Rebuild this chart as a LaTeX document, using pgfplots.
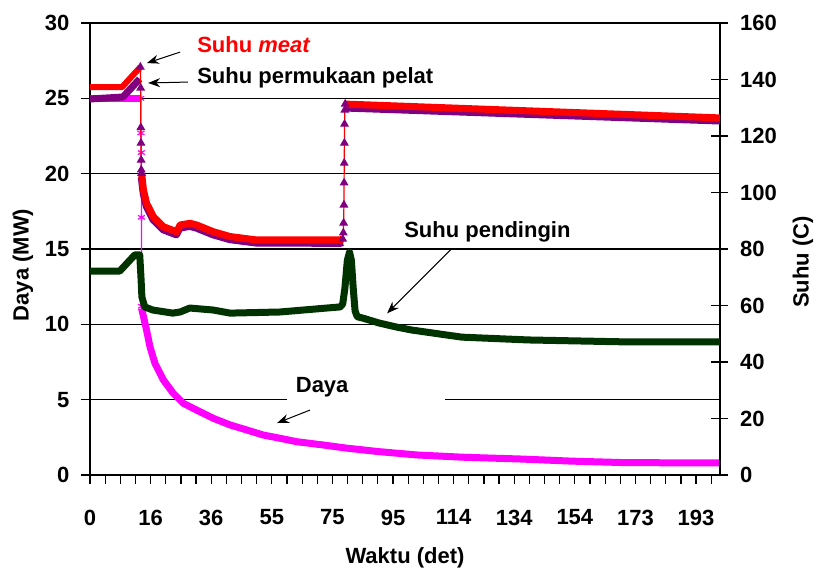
\documentclass[border=0pt]{standalone}
\usepackage{fontspec}
\setmainfont{Liberation Sans}
\usepackage{pgfplots}
\pgfplotsset{compat=1.18}
\usetikzlibrary{arrows.meta}
\definecolor{cmag}{RGB}{255,0,255}
\definecolor{cred}{RGB}{255,0,0}
\definecolor{cpur}{RGB}{128,0,128}
\definecolor{cgrn}{RGB}{0,51,0}
\begin{document}
\fontsize{11}{13}\selectfont\bfseries
\begin{tikzpicture}
\useasboundingbox (0,0) rectangle (408pt,286.5pt);
\begin{axis}[
  at={(45pt,49pt)}, anchor=south west,
  scale only axis, width=315pt, height=226pt,
  xmin=0, xmax=202.7, ymin=0, ymax=30,
  clip=false,
  axis line style={line width=0.8pt},
  every tick/.style={black, line width=0.6pt},
  tick align=outside, major tick length=4.5pt, minor tick length=4.5pt,
  xtick pos=bottom, ytick pos=left,
  xtick={0,19.5,39,58.5,78,97.5,117,136.5,156,175.5,195},
  xticklabels={0,16,36,55,75,95,114,134,154,173,193},
  minor xtick={4.875,9.75,...,200.5},
  ytick={0,5,...,30},
  ymajorgrids, major grid style={black, line width=0.6pt},
  /pgf/number format/assume math mode=true,
  yticklabel style={anchor=east, xshift=-2pt},
  xticklabel style={anchor=north, yshift=-9pt},
  xlabel={Waktu (det)}, ylabel={Daya (MW)},
  xlabel style={at={(axis description cs:0.5,-0.1836)}, anchor=center},
  ylabel style={at={(axis description cs:-0.1063,0.4646)}, anchor=center},
]
\addplot[cmag, line width=3.5pt, line join=round] coordinates {(0,25)(16.3,25)};
\addplot[cmag, line width=0.6pt, mark=asterisk, mark size=2pt, mark options={line width=0.6pt}] coordinates {(16.3,25)(16.4,22.7)(16.5,21.4)(16.55,17.1)(16.6,11.2)};
\addplot[cmag, line width=3.5pt, line join=round] coordinates {(16.6,11.06)(18.2,9.62)(19.3,8.51)(20.9,7.41)(23.6,6.31)(26.8,5.42)(30.0,4.76)(34.3,4.31)(39.7,3.76)(45.1,3.32)(50.4,2.99)(55.8,2.65)(61.1,2.44)(66.5,2.21)(75.1,1.99)(82.7,1.78)(93,1.55)(105.2,1.33)(120,1.18)(138.7,1.06)(155,0.92)(172.2,0.82)(202.7,0.80)};
% annotations
\fill[white] (axis cs:63.4,4.85) rectangle (axis cs:114.2,6.64);
\node[inner sep=0pt] at (axis cs:74.7,5.84) {Daya};
\draw[line width=0.5pt, -{Stealth[length=6pt,width=4.5pt]}] (axis cs:70.8,4.31) -- (axis cs:60.2,3.45);
\node[inner sep=0pt, anchor=west, text=cred] at (axis cs:34.4,28.54) {Suhu \textit{meat}};
\draw[line width=0.5pt, -{Stealth[length=6pt,width=4.5pt]}] (axis cs:29.0,28.07) -- (axis cs:18.3,27.34);
\node[inner sep=0pt, anchor=west] at (axis cs:34.4,26.35) {Suhu permukaan pelat};
\draw[line width=0.5pt, -{Stealth[length=6pt,width=4.5pt]}] (axis cs:31.5,26.08) -- (axis cs:18.7,26.02);
\node[inner sep=0pt, anchor=west] at (axis cs:101.0,16.13) {Suhu pendingin};
\draw[line width=0.5pt, -{Stealth[length=6pt,width=4.5pt]}] (axis cs:116.5,15.05) -- (axis cs:95.6,10.73);
\end{axis}
\begin{axis}[
  at={(45pt,49pt)}, anchor=south west,
  scale only axis, width=315pt, height=226pt,
  xmin=0, xmax=202.7, ymin=0, ymax=160,
  clip=false,
  axis x line=none, axis y line*=right,
  axis line style={line width=0.8pt, -},
  every tick/.style={black, line width=0.6pt},
  tick align=center, major tick length=8.5pt,
  ytick={0,20,...,160},
  /pgf/number format/assume math mode=true,
  yticklabel style={anchor=west, xshift=2pt},
  ylabel={Suhu (C)},
  ylabel style={at={(axis description cs:1.1317,0.471)}, anchor=center, rotate=0},
]
% coolant
\addplot[cgrn, line width=3.5pt, line join=round] coordinates {(0,72.2)(9.6,72.2)(14.4,77.9)(16.0,77.9)(16.4,70)(16.7,63.0)(17.6,59.5)(20.2,58.4)(26.6,57.3)(29.0,57.7)(32.1,59.1)(39.6,58.4)(45.1,57.3)(61.1,57.7)(80.5,59.5)(81.3,60.5)(82.0,66)(82.8,76)(83.5,78.9)(84.1,76)(84.7,66)(85.3,58)(86.0,56)(87.6,55.6)(93,53.8)(98.5,52.4)(103.6,51.3)(114.5,49.6)(119.6,48.8)(141.1,47.8)(173.2,47.1)(202.7,47.1)};
% plate surface (thick parts)
\addplot[cpur, line width=3.5pt, line join=round] coordinates {(0,133.1)(10.6,133.8)(16.0,140.2)};
\addplot[cpur, line width=3.5pt, line join=round] coordinates {(16.5,105.5)(17.1,99.8)(18.1,95.1)(20.3,90.3)(23.5,86.8)(27.8,85.0)(28.9,87.4)(32.1,88.0)(34.2,87.4)(39.6,85.0)(45.0,83.3)(53.5,82.1)(80.5,82.0)(81.3,82.3)};
\addplot[cpur, line width=3.5pt, line join=round] coordinates {(82.0,129.9)(202.7,125.3)};
% meat (thick parts)
\addplot[cred, line width=3pt, line join=round] coordinates {(0,137.3)(10.3,137.3)(16.2,144.4)};
\addplot[cred, line width=3.5pt, line join=round] coordinates {(16.6,106.8)(17.2,100.9)(18.2,96.2)(20.4,91.4)(23.6,87.9)(27.9,86.1)(29.0,88.5)(32.2,89.1)(34.3,88.5)(39.7,86.1)(45.1,84.4)(53.6,83.2)(80.5,83.2)(81.3,83.5)};
\addplot[cred, line width=3.5pt, line join=round] coordinates {(82.1,131.3)(202.7,126.4)};
% transitions (thin line with markers)
\addplot[cred, line width=0.6pt, mark=triangle*, mark size=2pt, mark options={cpur, fill=cpur}] coordinates {(16.2,144.4)(16.3,137)(16.35,123)(16.4,117.5)(16.45,111.5)(16.5,108)(16.6,106.8)};
\addplot[cred, line width=0.6pt, mark=triangle*, mark size=2pt, mark options={cpur, fill=cpur}] coordinates {(81.3,83.5)(81.5,85.7)(81.6,89.2)(81.7,95.6)(81.75,103.4)(81.8,110.4)(81.85,117.5)(81.9,124.2)(82.0,129.2)(82.1,131.3)};
\end{axis}
\end{tikzpicture}
\end{document}
